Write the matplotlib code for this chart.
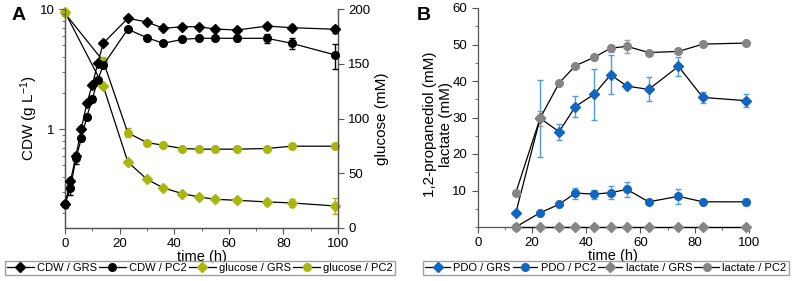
import numpy as np
import matplotlib.pyplot as plt
from matplotlib.ticker import MultipleLocator, LogLocator, NullFormatter, FixedLocator

plt.rcParams['font.family'] = ['Liberation Sans', 'DejaVu Sans']
plt.rcParams['mathtext.fontset'] = 'custom'
plt.rcParams['mathtext.rm'] = 'Liberation Sans'
plt.rcParams['mathtext.default'] = 'regular'

# ---- panel A data ----
t_cdw = [0, 2, 4, 6, 8, 10, 12, 14, 23, 30, 36, 43, 49, 55, 63, 74, 83, 99]
cdw_grs = [0.237, 0.369, 0.596, 1.01, 1.64, 2.33, 3.53, 5.18, 8.36, 7.8, 6.9, 7.12, 7.12, 6.81, 6.68, 7.21, 6.99, 6.78]
cdw_grs_err = [0.01, 0.02, 0.03, 0.05, 0.05, 0.08, 0.1, 0.15, 0.25, 0.2, 0.2, 0.2, 0.25, 0.2, 0.2, 0.35, 0.35, 0.45]
cdw_pc2 = [0.237, 0.324, 0.57, 0.836, 1.27, 1.78, 2.56, 3.41, 6.78, 5.77, 5.18, 5.59, 5.70, 5.70, 5.70, 5.70, 5.18, 4.14]
cdw_pc2_err = [0.015, 0.04, 0.06, 0.04, 0.05, 0.1, 0.1, 0.15, 0.2, 0.15, 0.15, 0.15, 0.15, 0.15, 0.3, 0.45, 0.5, 1.0]

t_glc = [0, 14, 23, 30, 36, 43, 49, 55, 63, 74, 83, 99]
glc_grs = [197, 129.6, 60.4, 44.5, 36.6, 31.4, 28.4, 26.2, 25.3, 23.8, 22.9, 20.1]
glc_grs_err = [1, 2, 1.5, 1.5, 1.5, 1.5, 2, 1.5, 1.5, 3, 4, 7]
glc_pc2 = [196, 152.4, 86.9, 78.0, 75.6, 72.6, 72.0, 72.0, 72.0, 72.6, 74.7, 74.7]
glc_pc2_err = [1, 4, 4, 1.5, 1.5, 1.5, 1.5, 1.5, 1.5, 1.5, 1.5, 1.5]

# ---- panel B data ----
t_b = [14, 23, 30, 36, 43, 49, 55, 63, 74, 83, 99]
pdo_grs = [3.7, 29.8, 26.1, 33.0, 36.4, 41.7, 38.6, 37.7, 44.0, 35.5, 34.6]
pdo_grs_err = [0.3, 10.6, 2.2, 2.8, 7.0, 5.3, 0.7, 3.3, 2.6, 1.5, 1.8]
pdo_pc2 = [0.0, 3.9, 6.2, 9.3, 9.0, 9.4, 10.3, 6.9, 8.4, 6.9, 6.9]
pdo_pc2_err = [0.1, 0.3, 0.5, 1.5, 1.2, 1.8, 2.0, 0.4, 2.0, 0.3, 0.8]
lac_grs = [0.0, 0.0, 0.0, 0.0, 0.0, 0.0, 0.0, 0.0, 0.0, 0.0, 0.0]
lac_pc2 = [9.3, 29.8, 39.4, 44.2, 46.5, 49.0, 49.5, 47.8, 48.1, 50.1, 50.4]
lac_pc2_err = [0.2, 2.0, 0.3, 0.3, 0.3, 1.0, 1.8, 0.3, 0.3, 0.3, 0.3]

green = '#a9b60e'
blue = '#1266c2'
blue_err = '#4f9be0'
grey = '#858585'
spine_c = '#555555'


def series(ax, x, y, err, mk, c, ec, label, ms=5.5, z=3):
    ax.errorbar(x, y, yerr=err, fmt='none', ecolor=ec, elinewidth=1.0, capsize=2.2, capthick=1.0, zorder=z)
    ax.plot(x, y, '-', color='black', lw=0.9, marker=mk, ms=ms, mfc=c, mec=c,
            label=label, zorder=z + 0.5, clip_on=False)


def style(ax):
    for s in ax.spines.values():
        s.set_color(spine_c)
        s.set_linewidth(0.9)
    ax.tick_params(which='both', direction='out', colors=spine_c, labelcolor='black', labelsize=9.5)
    ax.tick_params(which='major', length=4)
    ax.tick_params(which='minor', length=2.2)


fig = plt.figure(figsize=(7.98, 2.81), dpi=100)

# ---- panel A ----
axA = fig.add_axes([65 / 798, 1 - 228 / 281, 273 / 798, 219 / 281])
axA2 = axA.twinx()
axA.set_zorder(axA2.get_zorder() + 1)
axA.patch.set_visible(False)

series(axA2, t_glc, glc_grs, glc_grs_err, 'D', green, green, 'glucose / GRS', ms=5)
series(axA2, t_glc, glc_pc2, glc_pc2_err, 'o', green, green, 'glucose / PC2')
series(axA, t_cdw, cdw_grs, cdw_grs_err, 'D', 'black', 'black', 'CDW / GRS', ms=5)
series(axA, t_cdw, cdw_pc2, cdw_pc2_err, 'o', 'black', 'black', 'CDW / PC2')

axA.set_yscale('log')
axA.set_ylim(0.15, 10)
axA.set_xlim(0, 100)
axA.yaxis.set_major_locator(FixedLocator([1, 10]))
axA.yaxis.set_major_formatter(plt.FuncFormatter(lambda v, p: '%g' % v))
axA.yaxis.set_minor_locator(LogLocator(base=10, subs=np.arange(2, 10)))
axA.yaxis.set_minor_formatter(NullFormatter())
axA.xaxis.set_major_locator(MultipleLocator(20))
axA.xaxis.set_minor_locator(MultipleLocator(10))
axA2.set_ylim(0, 200)
axA2.yaxis.set_major_locator(MultipleLocator(50))
axA.set_xlabel('time (h)', fontsize=10.5, labelpad=0)
axA.set_ylabel('CDW (g L$^{-1}$)', fontsize=11)
axA.yaxis.set_label_coords(-0.092, 0.5)
axA2.set_ylabel('glucose (mM)', fontsize=11, labelpad=3)
for a in (axA, axA2):
    style(a)
    a.spines['top'].set_visible(False)
fig.text(0.014, 0.975, 'A', fontsize=14, fontweight='bold', va='top')

hA = axA.get_legend_handles_labels()
hA2 = axA2.get_legend_handles_labels()
fig.legend(hA[0] + hA2[0], hA[1] + hA2[1], loc='upper center', bbox_to_anchor=(200 / 798, 1 - 261 / 281),
           ncol=4, fontsize=8, frameon=True, fancybox=False, edgecolor='#888888', handlelength=2.4,
           handletextpad=0.3, columnspacing=0.2, borderpad=0.2, borderaxespad=0)

# ---- panel B ----
axB = fig.add_axes([477.7 / 798, 1 - 227 / 281, 271.3 / 798, 219 / 281])
series(axB, t_b, pdo_grs, pdo_grs_err, 'D', blue, blue_err, 'PDO / GRS', ms=5)
series(axB, t_b, pdo_pc2, pdo_pc2_err, 'o', blue, blue_err, 'PDO / PC2')
series(axB, t_b, lac_grs, None, 'D', grey, grey, 'lactate / GRS', ms=5)
series(axB, t_b, lac_pc2, lac_pc2_err, 'o', grey, '#9a9a9a', 'lactate / PC2')
axB.set_xlim(0, 100)
axB.set_ylim(0, 60)
axB.set_yticks([10, 20, 30, 40, 50, 60])
axB.yaxis.set_minor_locator(MultipleLocator(5))
axB.xaxis.set_major_locator(MultipleLocator(20))
axB.xaxis.set_minor_locator(MultipleLocator(10))
axB.set_xlabel('time (h)', fontsize=10.5, labelpad=0)
axB.set_ylabel('1,2-propanediol (mM)\nlactate (mM)', fontsize=11, linespacing=1.25)
axB.yaxis.set_label_coords(-0.09, 0.47)
style(axB)
axB.spines['top'].set_visible(False)
axB.spines['right'].set_visible(False)
fig.text(0.522, 0.975, 'B', fontsize=14, fontweight='bold', va='top')

hB = axB.get_legend_handles_labels()
fig.legend(hB[0], hB[1], loc='upper center', bbox_to_anchor=(606 / 798, 1 - 261 / 281),
           ncol=4, fontsize=8, frameon=True, fancybox=False, edgecolor='#888888', handlelength=2.2,
           handletextpad=0.3, columnspacing=0.2, borderpad=0.2, borderaxespad=0)

fig.savefig('out.png', dpi=100)
